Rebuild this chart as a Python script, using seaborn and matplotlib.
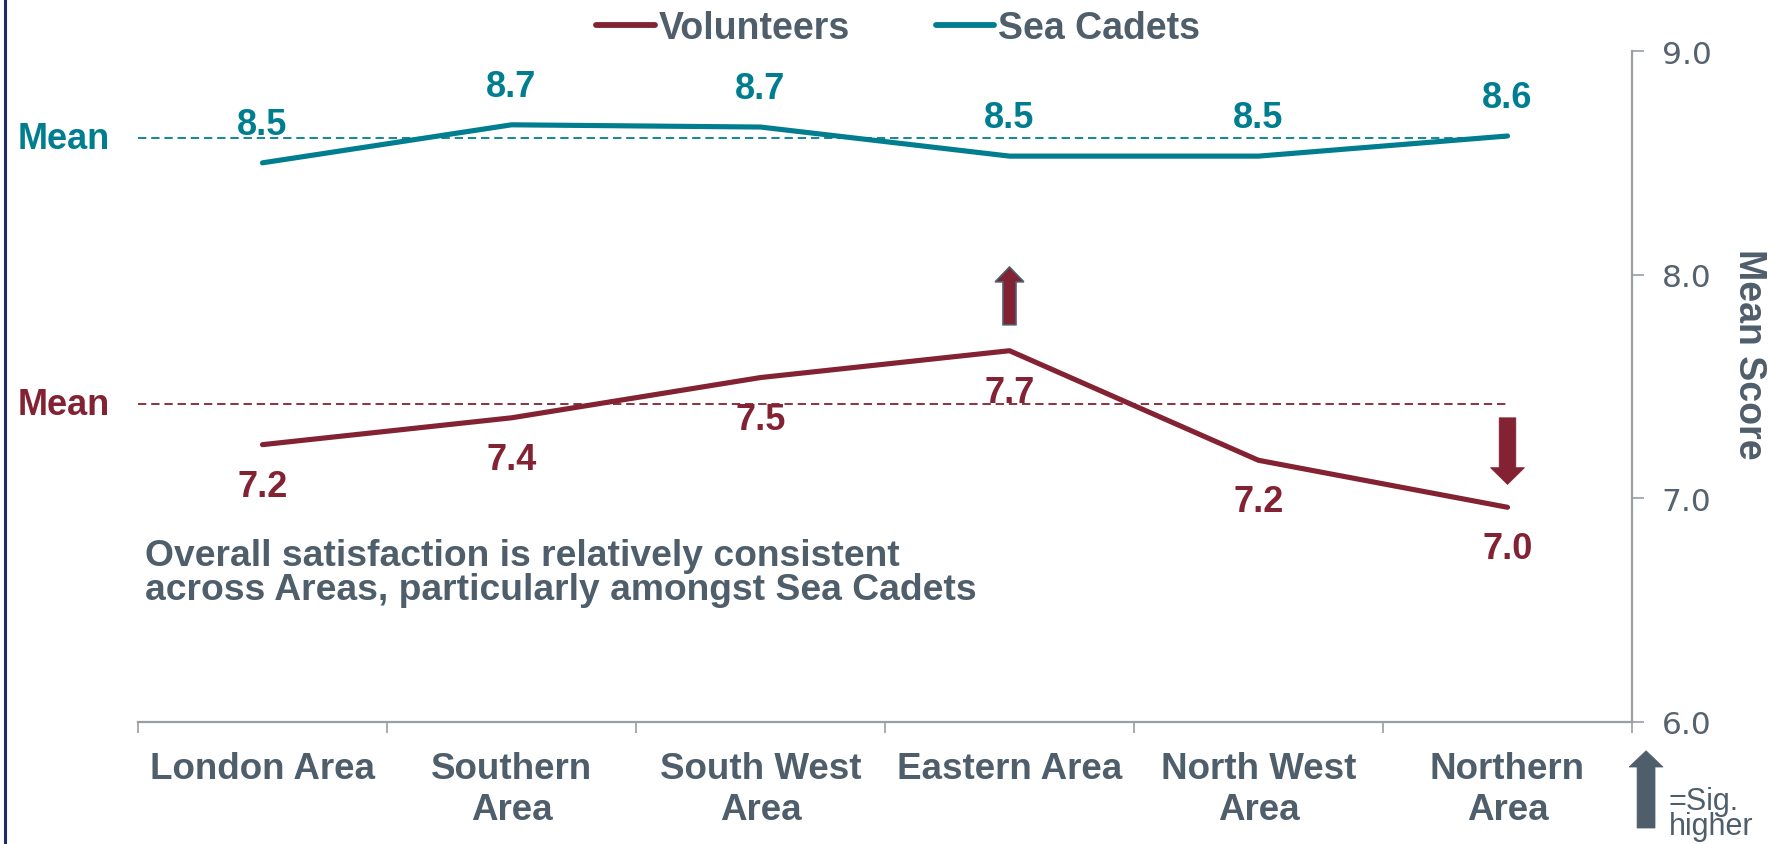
import numpy as np
import pandas as pd
import seaborn as sns
import matplotlib.pyplot as plt
from matplotlib.patches import FancyArrow
from matplotlib.lines import Line2D
import matplotlib.transforms as mtrans

# chart data
areas = ["London Area", "Southern Area", "South West Area",
         "Eastern Area", "North West Area", "Northern Area"]
tick_labels = ["London Area", "Southern\nArea", "South West\nArea",
               "Eastern Area", "North West\nArea", "Northern\nArea"]
volunteers = [7.24, 7.36, 7.54, 7.66, 7.17, 6.96]
sea_cadets = [8.50, 8.67, 8.66, 8.53, 8.53, 8.62]
volunteers_mean = 7.42
sea_cadets_mean = 8.61
# +1 = significantly higher, -1 = significantly lower
volunteers_sig = [0, 0, 0, 1, 0, -1]
note = "Overall satisfaction is relatively consistent\nacross Areas, particularly amongst Sea Cadets"

MAROON = "#832232"
TEAL = "#007E8F"
SLATE = "#4F5E6B"
GREY = "#9A9DA2"

sns.set_style("white")
plt.rcParams["font.family"] = ["Liberation Sans", "DejaVu Sans"]
plt.rcParams["lines.scale_dashes"] = False

df = pd.DataFrame({
    "area": areas * 2,
    "x": list(range(len(areas))) * 2,
    "score": volunteers + sea_cadets,
    "group": ["Volunteers"] * len(areas) + ["Sea Cadets"] * len(areas),
})

fig = plt.figure(figsize=(17.71, 8.45), dpi=100)
ax = fig.add_axes([138 / 1771, 1 - 723 / 845, (1632 - 138) / 1771, (723 - 52) / 845])

sns.lineplot(data=df, x="x", y="score", hue="group", palette={"Volunteers": MAROON, "Sea Cadets": TEAL},
             linewidth=3.7, ax=ax, legend=True, solid_capstyle="round")

ax.set_xlim(-0.5, len(areas) - 0.5)
ax.set_ylim(6, 9)

# mean reference lines
n = len(areas)
tr = mtrans.blended_transform_factory(ax.transAxes, ax.transData)
for m, col in [(volunteers_mean, MAROON), (sea_cadets_mean, TEAL)]:
    ax.plot([-0.5, n - 1], [m, m], color=col, lw=1.3, dashes=(6, 3.5), zorder=1)
    ax.text(-0.019, m, "Mean", transform=tr, ha="right", va="center", color=col,
            fontsize=26, fontweight="bold", clip_on=False)

# value labels
for i, v in enumerate(sea_cadets):
    ax.annotate(f"{v:.1f}", (i, v), xytext=(0, 27.5), textcoords="offset points",
                ha="center", va="center", color=TEAL, fontsize=26, fontweight="bold")
for i, v in enumerate(volunteers):
    ax.annotate(f"{v:.1f}", (i, v), xytext=(0, -30), textcoords="offset points",
                ha="center", va="center", color=MAROON, fontsize=26, fontweight="bold")

# significance arrows
for i, (v, s) in enumerate(zip(volunteers, volunteers_sig)):
    if s > 0:
        ax.add_patch(FancyArrow(i, v + 0.116, 0, 0.258, width=0.052, head_width=0.115,
                                head_length=0.066, length_includes_head=True,
                                facecolor=MAROON, edgecolor=SLATE, lw=1.2, zorder=4))
    elif s < 0:
        ax.add_patch(FancyArrow(i, v + 0.40, 0, -0.298, width=0.067, head_width=0.137,
                                head_length=0.075, length_includes_head=True,
                                facecolor=MAROON, edgecolor=MAROON, lw=0.5, zorder=4))

# axes styling
ax.yaxis.tick_right()
ax.set_yticks([6, 7, 8, 9])
ax.set_yticklabels(["6.0", "7.0", "8.0", "9.0"], family="DejaVu Sans")
ax.set_xticks(np.arange(-0.5, n, 1.0))
ax.set_xticklabels([])
ax.set_xticks(range(n), minor=True)
ax.set_xticklabels(tick_labels, minor=True)
ax.tick_params(axis="x", which="major", length=8, width=1.2, color=GREY, direction="out", bottom=True)
ax.tick_params(axis="x", which="minor", length=0, pad=21, labelsize=26.5, labelcolor=SLATE)
for t in ax.get_xticklabels(minor=True):
    t.set_fontweight("bold")
    t.set_va("top")
ax.tick_params(axis="y", length=8.5, width=1.2, color=GREY, direction="out", right=True, left=False,
               labelsize=22.5, labelcolor="#56636E", pad=13)
for s in ["top", "left"]:
    ax.spines[s].set_visible(False)
for s in ["bottom", "right"]:
    ax.spines[s].set_color(GREY)
    ax.spines[s].set_linewidth(1.6)
ax.set_xlabel("")
ax.set_ylabel("")
ax.text(1.0785, 0.55, "Mean Score", transform=ax.transAxes, rotation=270, ha="center", va="center",
        color=SLATE, fontsize=27, fontweight="bold", clip_on=False)

leg = ax.legend(loc="center", bbox_to_anchor=(898 / 1771, 1 - 29 / 845), bbox_transform=fig.transFigure,
                ncol=2, frameon=False, handlelength=1.55, handletextpad=0.1, columnspacing=2.3,
                prop={"size": 27, "weight": "bold"})
for t in leg.get_texts():
    t.set_color(SLATE)
for h in leg.get_lines():
    h.set_linewidth(4.2)
    h.set_solid_capstyle("round")

ax.text((145 - 138) / 1494, (723 - 600) / 671, note, transform=ax.transAxes, ha="left", va="baseline",
        color=SLATE, fontsize=26.8, fontweight="bold", linespacing=0.95)

# key for the arrow symbol
ax.add_patch(FancyArrow(1.0094, -0.158, 0, 0.1152, width=0.012, head_width=0.0228, head_length=0.0243,
                        length_includes_head=True, transform=ax.transAxes, clip_on=False,
                        facecolor=SLATE, edgecolor=SLATE, lw=0.5))
fig.text(1669 / 1771, 1 - 787 / 845, "=Sig.\nhigher", ha="left", va="top", color=SLATE,
         fontsize=22, linespacing=0.8)

# slide border on the left
fig.add_artist(Line2D([5 / 1771, 5 / 1771], [0, 1], color="#1F2A6B", lw=2.2, transform=fig.transFigure))

fig.savefig("out.png", dpi=100)
